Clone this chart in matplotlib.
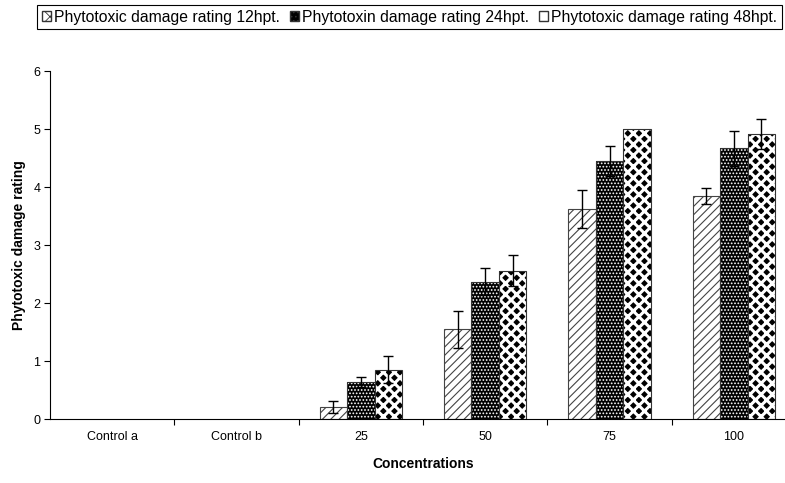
import numpy as np
import matplotlib
matplotlib.use("Agg")
import matplotlib.pyplot as plt
from matplotlib.ticker import FixedLocator, NullFormatter
from matplotlib.patches import Patch

plt.rcParams['font.family'] = ['Liberation Sans', 'DejaVu Sans']

# data
categories = ['Control a', 'Control b', '25', '50', '75', '100']
rating_12 = [0, 0, 0.21, 1.55, 3.62, 3.85]
err_12 = [0, 0, 0.10, 0.32, 0.33, 0.14]
rating_24 = [0, 0, 0.64, 2.37, 4.45, 4.67]
err_24 = [0, 0, 0.08, 0.24, 0.26, 0.30]
rating_48 = [0, 0, 0.85, 2.56, 5.00, 4.91]
err_48 = [0, 0, 0.23, 0.27, 0.0, 0.26]

labels = ['Phytotoxic damage rating 12hpt.',
          'Phytotoxin damage rating 24hpt.',
          'Phytotoxic damage rating 48hpt.']


def nz(v):
    # zero values draw nothing in the original chart
    v = np.asarray(v, dtype=float)
    return np.where(v == 0, np.nan, v)


fig = plt.figure(figsize=(7.85, 4.83), dpi=100)
ax = fig.add_axes([50 / 785, 1 - 419 / 483, 746 / 785, 348 / 483])

x = np.arange(len(categories))
w = 0.22
ekw = dict(ecolor='black', elinewidth=1, capsize=3.5, capthick=1)

# 12 hpt: white with grey diagonal hatch
plt.rcParams['hatch.linewidth'] = 0.8
ax.bar(x - w, nz(rating_12), w, facecolor='white', edgecolor='#444444',
       linewidth=0.8, hatch='////', zorder=2)
ax.errorbar(x - w, nz(rating_12), yerr=nz(err_12), fmt='none', zorder=3, **ekw)

# 24 hpt: black with white dots
ax.bar(x, nz(rating_24), w, facecolor='black', edgecolor='white',
       linewidth=0, hatch='.....', zorder=2)
ax.bar(x, nz(rating_24), w, fill=False, edgecolor='#333333', linewidth=0.8, zorder=2)
ax.errorbar(x, nz(rating_24), yerr=nz(err_24), fmt='none', zorder=3, **ekw)

# 48 hpt: black diamonds on white
plt.rcParams['hatch.linewidth'] = 2.2
ax.bar(x + w, nz(rating_48), w, facecolor='black', edgecolor='white',
       linewidth=0, hatch='xxx', zorder=2)
ax.bar(x + w, nz(rating_48), w, fill=False, edgecolor='#333333', linewidth=0.8, zorder=2)
ax.errorbar(x + w, nz(rating_48), yerr=nz(err_48), fmt='none', zorder=3, **ekw)

ax.set_xlim(-0.5, len(categories) - 0.5)
ax.set_ylim(0, 6)
ax.set_yticks(range(7))
ax.set_xticks(x)
ax.set_xticklabels(categories)
ax.xaxis.set_minor_locator(FixedLocator(x[:-1] + 0.5))
ax.xaxis.set_minor_formatter(NullFormatter())
ax.tick_params(axis='x', which='major', length=0, pad=9, labelsize=9)
ax.tick_params(axis='x', which='minor', length=4, width=0.8, direction='out')
ax.tick_params(axis='y', length=4, width=0.8, direction='out', labelsize=9, pad=3)

for s in ['top', 'right']:
    ax.spines[s].set_visible(False)
ax.spines['left'].set_linewidth(0.8)
ax.spines['bottom'].set_linewidth(0.8)

ax.set_xlabel('Concentrations', fontsize=10, fontweight='bold', labelpad=10)
ax.set_ylabel('Phytotoxic damage rating', fontsize=10, fontweight='bold', labelpad=5)

# legend with simple patches
plt.rcParams['hatch.linewidth'] = 0.6
handles = [Patch(facecolor='white', edgecolor='#333333', hatch='xx'),
           Patch(facecolor='black', edgecolor='#333333', hatch='....'),
           Patch(facecolor='white', edgecolor='#333333')]
leg = fig.legend(handles, labels, loc='upper left', bbox_to_anchor=(37 / 785, 1 - 5 / 483),
                 ncol=3, fontsize=11.3, frameon=True, fancybox=False, framealpha=1,
                 handlelength=0.6, handleheight=0.6, handletextpad=0.2,
                 columnspacing=0.6, borderpad=0.3, borderaxespad=0)
leg.get_frame().set_edgecolor('black')
leg.get_frame().set_linewidth(0.8)

fig.savefig('out.png', dpi=100)
